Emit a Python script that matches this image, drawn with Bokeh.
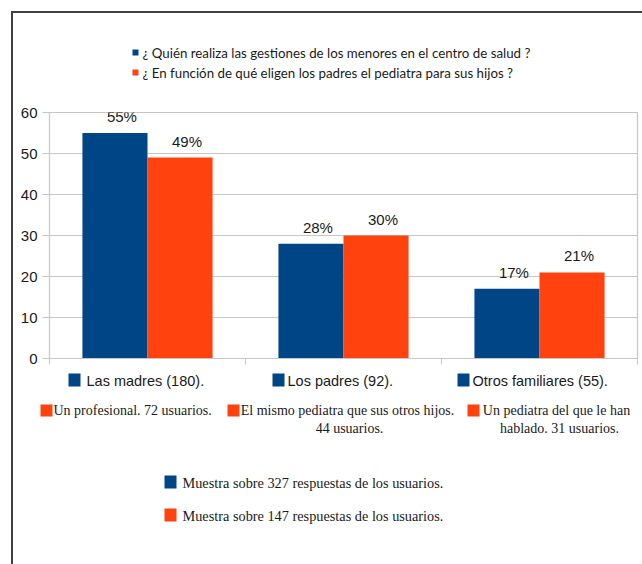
from bokeh.plotting import figure
from bokeh.models import ColumnDataSource, Range1d, FixedTicker, LabelSet, Spacer
from bokeh.layouts import column, row
from bokeh.transform import dodge
from bokeh.core.properties import value
from bokeh.embed import file_html
from bokeh.resources import INLINE

# ---------------- data ----------------
categorias = ["Las madres", "Los padres", "Otros familiares"]
gestiones = [55, 28, 17]          # ¿Quién realiza las gestiones...? (%)
eleccion = [49, 30, 21]           # ¿En función de qué eligen...? (%)
y_ticks = [0, 10, 20, 30, 40, 50, 60]
series_nombres = [
    "¿ Quién realiza las gestiones de los menores en el centro de salud ?",
    "¿ En función de qué eligen los padres el pediatra para sus hijos ?",
]
etiquetas_gestiones = ["Las madres (180).", "Los padres (92).", "Otros familiares (55)."]
etiquetas_eleccion = [
    ["Un profesional. 72 usuarios."],
    ["El mismo pediatra que sus otros hijos.", "44 usuarios."],
    ["Un pediatra del que le han", "hablado. 31 usuarios."],
]
muestras = [
    "Muestra sobre 327 respuestas de los usuarios.",
    "Muestra sobre 147 respuestas de los usuarios.",
]

BLUE = "#004586"
ORANGE = "#ff420e"
GRID = "#c6c6c6"
TXT = "#1a1a1a"
FRAME = "#404040"

TOTAL_W, TOTAL_H = 642, 564
OFF = 13                      # outer frame line ends at x = y = 13
IN_W = TOTAL_W - OFF
TOP_END = 100
MID_H = 270
BOT_START = TOP_END + MID_H


def no_align(f):
    if "frame_align" in f.properties():
        f.frame_align = False
    return f


def panel(x0, width, y0, height):
    f = figure(width=width, height=height, output_backend="svg", toolbar_location=None,
               x_range=Range1d(x0, x0 + width), y_range=Range1d(y0 + height, y0),
               min_border=0, title=None, x_axis_location=None, y_axis_location=None)
    f.grid.visible = False
    f.outline_line_color = None
    f.background_fill_color = "white"
    f.border_fill_color = "white"
    return no_align(f)


def squares(f, xs, ys, w, h, color):
    f.quad(left=xs, right=[x + w for x in xs], top=ys, bottom=[y + h for y in ys],
           fill_color=color, line_color=None)


def texts(f, xs, ys, t, font, size, align="left"):
    f.text(x=xs, y=ys, text=t, text_font=value(font), text_font_size=value(size),
           text_color=TXT, text_align=align, text_baseline="middle")


# ---------------- top panel: series legend ----------------
top = panel(OFF, IN_W, OFF, TOP_END - OFF)
leg_y = [52, 72]
squares(top, [132], [leg_y[0] - 3], 6, 6, BLUE)
squares(top, [132], [leg_y[1] - 3], 6, 6, ORANGE)
texts(top, [142, 142], leg_y, series_nombres, "Lato", "13.3px")

# ---------------- middle: chart ----------------
p = figure(width=IN_W, height=MID_H, output_backend="svg",
           toolbar_location=None, x_range=Range1d(0, 3), y_range=Range1d(0, 60),
           title=None, min_border_left=49 - OFF, min_border_right=5,
           min_border_top=12, min_border_bottom=12)
no_align(p)
p.background_fill_color = "white"
p.border_fill_color = "white"
p.outline_line_color = GRID
p.outline_line_width = 1.2

src = ColumnDataSource(dict(
    x=[i + 0.5 for i in range(len(categorias))],
    cat=categorias,
    gestiones=gestiones,
    eleccion=eleccion,
    lab_g=[f"{v}%" for v in gestiones],
    lab_e=[f"{v}%" for v in eleccion],
))

W = 0.332
p.vbar(x=dodge("x", -W / 2, range=p.x_range), top="gestiones", width=W,
       source=src, fill_color=BLUE, line_color=None)
p.vbar(x=dodge("x", W / 2, range=p.x_range), top="eleccion", width=W,
       source=src, fill_color=ORANGE, line_color=None)

for col, off, ytop in (("lab_g", -W / 2, "gestiones"), ("lab_e", W / 2, "eleccion")):
    p.add_layout(LabelSet(x=dodge("x", off, range=p.x_range), y=ytop, text=col,
                          source=src, x_offset=7, y_offset=8,
                          text_align="center", text_baseline="bottom",
                          text_font=value("Liberation Sans"),
                          text_font_size="15px", text_color=TXT))

p.yaxis.ticker = FixedTicker(ticks=y_ticks)
p.yaxis.axis_line_color = GRID
p.yaxis.major_tick_line_color = GRID
p.yaxis.major_tick_out = 7
p.yaxis.major_tick_in = 0
p.yaxis.minor_tick_line_color = None
p.yaxis.major_label_standoff = 5
p.yaxis.major_label_text_font = "Liberation Sans"
p.yaxis.major_label_text_font_size = "15px"
p.yaxis.major_label_text_color = TXT

p.xaxis.ticker = FixedTicker(ticks=[0, 1, 2, 3])
p.xaxis.axis_line_color = GRID
p.xaxis.major_tick_line_color = GRID
p.xaxis.major_tick_out = 6
p.xaxis.major_tick_in = 0
p.xaxis.minor_tick_line_color = None
p.xaxis.major_label_text_font_size = "0px"
p.xaxis.major_label_text_color = None

p.xgrid.grid_line_color = None
p.ygrid.grid_line_color = GRID
p.ygrid.ticker = FixedTicker(ticks=y_ticks)

# ---------------- bottom panel: category notes + samples ----------------
bot = panel(OFF, IN_W, BOT_START, TOTAL_H - BOT_START)

squares(bot, [68, 272, 457], [373, 373, 373], 12, 13, BLUE)
texts(bot, [86, 287, 472], [380, 380, 380], etiquetas_gestiones, "Liberation Sans", "14.5px")

squares(bot, [40, 227, 467], [404, 404, 404], 12, 12, ORANGE)
texts(bot, [53], [410], etiquetas_eleccion[0], "Liberation Serif", "14px")
texts(bot, [347, 349], [410, 428], etiquetas_eleccion[1], "Liberation Serif", "14px", "center")
texts(bot, [556, 559], [410, 428], etiquetas_eleccion[2], "Liberation Serif", "14px", "center")

squares(bot, [164], [475], 12, 13, BLUE)
squares(bot, [164], [508], 12, 13, ORANGE)
texts(bot, [182, 182], [482, 515], muestras, "Liberation Serif", "14.3px")

# ---------------- outer frame (top + left lines) via CSS border ----------------
framed = column(top, p, bot,
                styles={"border-left": f"2px solid {FRAME}",
                        "border-top": f"2px solid {FRAME}"})
layout = column(Spacer(width=TOTAL_W, height=OFF - 2),
                row(Spacer(width=OFF - 2, height=TOTAL_H - OFF), framed))
open("out.html", "w").write(file_html(layout, INLINE))
